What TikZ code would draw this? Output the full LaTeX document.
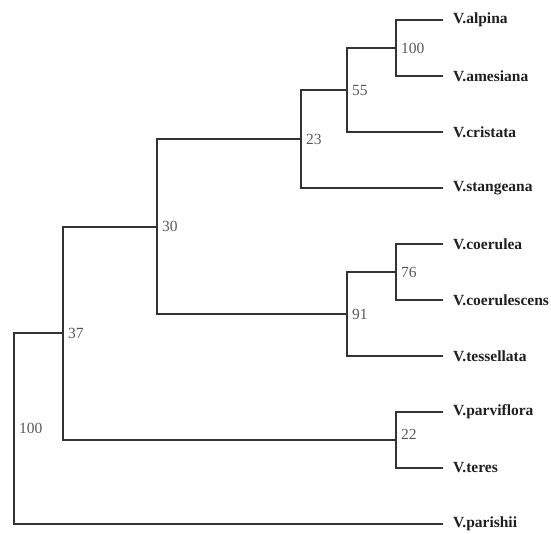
\documentclass[tikz,border=0pt]{standalone}
\usepackage{fontspec}
\setmainfont{Liberation Serif}
\begin{document}
\begin{tikzpicture}[x=1pt,y=-1pt,
  branch/.style={draw=black!80, line width=2pt},
  taxon/.style={anchor=west, inner sep=0pt, xshift=10pt, font=\fontsize{15.5}{17}\selectfont\bfseries, text=black!88},
  support/.style={anchor=west, inner sep=0pt, xshift=5pt, font=\fontsize{15.5}{17}\selectfont, text=black!65}]
\useasboundingbox (0,0) rectangle (551,533);
% tips
\coordinate (alp) at (443,20);
\coordinate (ame) at (443,76);
\coordinate (cri) at (443,132);
\coordinate (sta) at (443,188);
\coordinate (coe) at (443,244);
\coordinate (coes) at (443,300);
\coordinate (tes) at (443,356);
\coordinate (par) at (443,412);
\coordinate (ter) at (443,468);
\coordinate (pari) at (443,524);
% internal nodes
\coordinate (n100) at (396,48);
\coordinate (n55) at (347,90);
\coordinate (n23) at (301,139);
\coordinate (n76) at (396,272);
\coordinate (n91) at (347,314);
\coordinate (n30) at (157,226.5);
\coordinate (n22) at (396,440);
\coordinate (n37) at (63,333);
\coordinate (root) at (14,428.5);
% branches
\draw[branch] (alp) -| (n100) |- (ame);
\draw[branch] (n100) -| (n55) |- (cri);
\draw[branch] (n55) -| (n23) |- (sta);
\draw[branch] (coe) -| (n76) |- (coes);
\draw[branch] (n76) -| (n91) |- (tes);
\draw[branch] (n23) -| (n30) |- (n91);
\draw[branch] (par) -| (n22) |- (ter);
\draw[branch] (n30) -| (n37) |- (n22);
\draw[branch] (n37) -| (root) |- (pari);
% taxon labels
\node[taxon] (lalp) at (alp) {V.alpina};
\node[taxon] (lame) at (ame) {V.amesiana};
\node[taxon] (lcri) at (cri) {V.cristata};
\node[taxon] (lsta) at (sta) {V.stangeana};
\node[taxon] (lcoe) at (coe) {V.coerulea};
\node[taxon] (lcoes) at (coes) {V.coerulescens};
\node[taxon] (ltes) at (tes) {V.tessellata};
\node[taxon] (lpar) at (par) {V.parviflora};
\node[taxon] (lter) at (ter) {V.teres};
\node[taxon] (lpari) at (pari) {V.parishii};
% support values
\node[support] (s100) at (n100) {100};
\node[support] (s55) at (n55) {55};
\node[support] (s23) at (n23) {23};
\node[support] (s76) at (n76) {76};
\node[support] (s91) at (n91) {91};
\node[support] (s30) at (n30) {30};
\node[support,yshift=6pt] (s22) at (n22) {22};
\node[support] (s37) at (n37) {37};
\node[support] (sroot) at (root) {100};
\end{tikzpicture}
\end{document}
